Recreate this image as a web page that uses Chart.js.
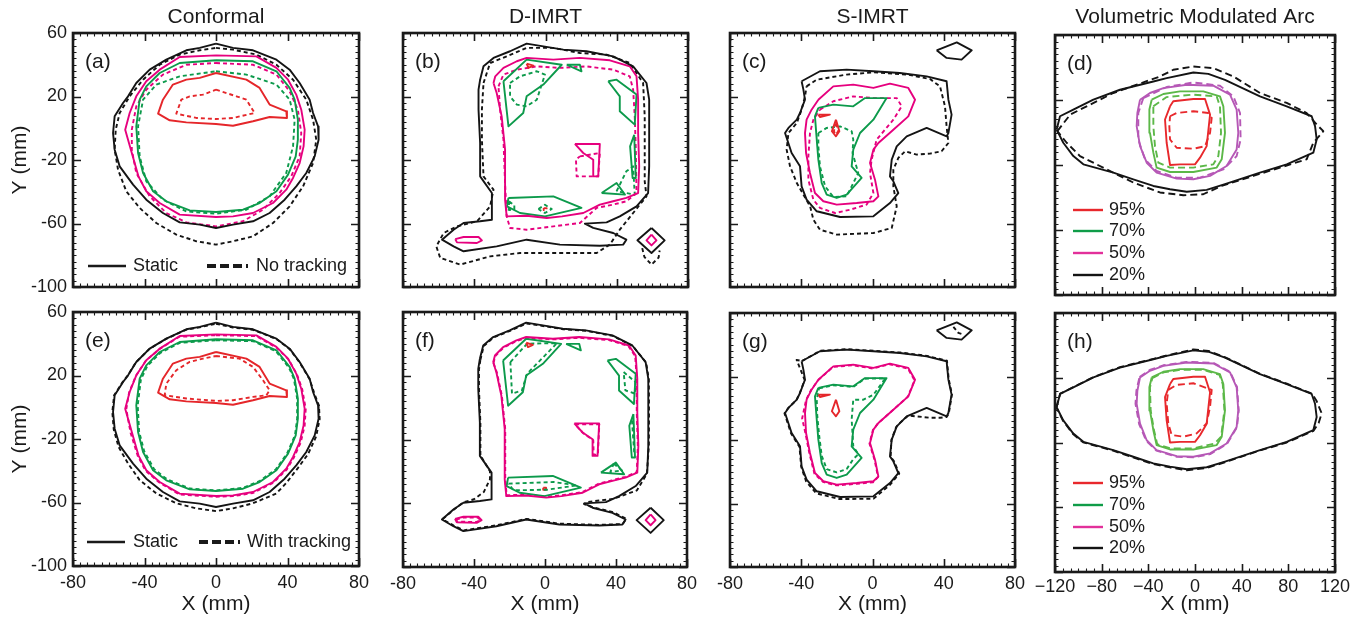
<!DOCTYPE html>
<html><head><meta charset="utf-8">
<script src="https://cdn.jsdelivr.net/npm/chart.js@4"></script>
<style>
html,body{margin:0;padding:0;background:#fff;width:1363px;height:617px;overflow:hidden}
#wrap{position:relative;width:1363px;height:617px}
canvas{position:absolute;left:0;top:0}
</style>
</head><body><div id="wrap"></div>
<script>
// ---------------- DATA (mm) ----------------
const columnTitles = ['Conformal','D-IMRT','S-IMRT','Volumetric Modulated Arc'];
const panelLetters = ['(a)','(b)','(c)','(d)','(e)','(f)','(g)','(h)'];
const yTicks = [60,20,-20,-60,-100];
const xTicks = [-80,-40,0,40,80];
const xTicksArc = [-120,-80,-40,0,40,80,120];
const doseLevels = ['95%','70%','50%','20%'];

// Conformal
const conf_static_20=[[0,53.3],[9.5,50.6],[20.7,49.1],[33.8,43.2],[41.2,36.9],[46.8,28.5],[52.4,18],[54.3,9.6],[57.1,1.2],[57.4,-7.2],[55.2,-17.7],[50.5,-28.2],[44.9,-36.6],[38.4,-45],[30,-53.4],[20.7,-58.6],[9.5,-60.7],[0,-62.8],[-9.1,-60.7],[-20.3,-59.3],[-29.7,-53.4],[-39,-45],[-46.4,-35.5],[-53.9,-24],[-56.7,-13.5],[-57.6,-3],[-56.7,7.5],[-52,15.9],[-49.2,20.1],[-44.6,28.5],[-37.1,36.9],[-27.8,43.2],[-16.6,49.1],[-9.1,50.6]];
const conf_static_50=[[0,45.9],[22.6,45.3],[33.8,38],[40.3,30.6],[44.9,21.2],[47.7,11.7],[49.6,-0.9],[49,-11.4],[46.8,-21.9],[43.1,-31.3],[39.3,-38.7],[31.9,-47.1],[20.7,-53.4],[9.5,-55.5],[0,-55.9],[-20.3,-54.4],[-31.5,-47.1],[-39,-39.7],[-43.4,-30.3],[-47.1,-15.6],[-50.8,-0.9],[-48.3,9.6],[-44.6,20.1],[-39,29.6],[-31.5,36.9],[-20.3,44.9]];
const conf_static_70=[[0,42.8],[20.7,42.2],[33.8,35.9],[41.2,25.4],[44,18],[45.8,5.4],[45.8,-7.2],[44.6,-17.7],[40.3,-29.2],[33.8,-39.7],[24.4,-47.1],[15.1,-51.3],[0,-52.8],[-14.7,-51.7],[-27.8,-46],[-35.2,-39.7],[-40.8,-28.2],[-43.6,-15.6],[-44.6,1.2],[-42.7,18],[-39,26.4],[-31.5,34.8],[-20.3,41.1]];
const conf_static_95=[[0,34.8],[17,30.6],[24.4,25.4],[30,14.9],[39.3,10.7],[39.7,6.5],[30,7.1],[20.7,4.4],[9.5,1.6],[0,2.7],[-16.6,3.7],[-25.9,5],[-32.4,9.2],[-29.7,18],[-24.1,27.5],[-16.6,30.6],[-9.1,31.7]];
const conf_notrack_20=[[0,50.6],[9.5,49.5],[22.6,46.4],[33.8,40],[43.1,30.6],[50.5,18],[54.3,5.4],[56.1,-7.2],[54.3,-21.9],[48.7,-36.6],[41.2,-49.2],[31.9,-59.7],[20.7,-68.1],[9.5,-71.2],[0,-73.3],[-11,-71.2],[-22.2,-67],[-33.4,-59.7],[-42.7,-50.2],[-50.2,-39.7],[-54.8,-26.1],[-56.7,-13.5],[-56.1,-0.9],[-53.9,9.6],[-48.3,20.1],[-40.8,30.6],[-31.5,40],[-20.3,46.4],[-9.1,49.1]];
const conf_notrack_50=[[0,41.1],[20.7,40],[33.8,33.8],[41.2,23.3],[45.8,11.7],[47.7,-3],[46.8,-17.7],[42.1,-30.3],[35.6,-40.8],[26.3,-51.3],[15.1,-58.6],[0,-61.8],[-16.6,-59.3],[-27.8,-53.4],[-37.1,-42.9],[-44.6,-28.2],[-47.1,-13.5],[-47.1,-0.9],[-44.6,13.8],[-39,24.3],[-29.7,33.8],[-16.6,40]];
const conf_notrack_70=[[0,35.9],[17,33.8],[33.8,27.5],[41.2,18],[44,5.4],[43.1,-11.4],[39.3,-28.2],[30,-42.9],[17,-51.3],[0,-53.8],[-16.6,-52.4],[-29.7,-45],[-39,-33.4],[-42.7,-17.7],[-43.6,1.2],[-40.8,18],[-33.4,27.5],[-20.3,32.7]];
const conf_notrack_95=[[0,24.3],[11.4,20.1],[17,18],[21.6,9.6],[9.5,6.5],[0,5.8],[-11,6.5],[-22.2,9.2],[-19.4,18],[-14.7,20.1],[-7.3,21.2]];
const conf_track_20=[[0,52.6],[9.5,50.2],[20.7,48.8],[33.8,43],[41.2,36.6],[46.8,28.2],[52.4,17.6],[54.8,9.4],[57.6,1],[58,-7.5],[56,-18.5],[51.5,-29.5],[46,-38],[39.5,-47.5],[33.8,-54.3],[20.7,-60.5],[9.5,-63.7],[0,-65.4],[-11,-63.7],[-22.2,-60.5],[-33.4,-54.3],[-42.7,-45.9],[-49.2,-35.4],[-54.5,-25],[-57.2,-14],[-58,-3],[-57,7.5],[-52.3,15.8],[-49.4,20],[-44.8,28.3],[-37.3,36.7],[-28,43],[-16.8,48.8],[-9.2,50.3]];
const conf_track_50=[[0,45.4],[22.6,44.8],[33.8,37.6],[40.5,30.2],[45.2,21],[48.2,11.5],[50.2,-1],[49.6,-11.6],[47.4,-22.2],[43.6,-31.6],[39.6,-39.2],[32,-47.6],[20.7,-54],[9.5,-56],[0,-56.4],[-20.3,-55],[-31.5,-47.6],[-39.4,-40],[-43.8,-30.6],[-47.8,-16],[-50.2,-1.2],[-48.6,9.4],[-44.8,19.8],[-39.2,29.4],[-31.7,36.6],[-20.5,44.4]];
const conf_track_70=[[0,42.2],[20.7,41.6],[33.4,35.4],[40.8,25],[43.6,17.8],[45.4,5.4],[45.4,-7.2],[44.2,-17.6],[39.8,-29],[33.4,-39.2],[24.2,-46.6],[15,-50.8],[0,-52.4],[-14.6,-51.2],[-27.4,-45.4],[-34.6,-39],[-40.2,-27.6],[-43,-15.4],[-43.8,1.2],[-42,17.6],[-38.4,26],[-31.2,34.2],[-20.2,40.6]];
const conf_track_95=[[0,32.3],[13.2,30.6],[20.7,25.4],[26.3,17],[30,10.7],[28.2,7.6],[20.7,6.5],[9.5,4.4],[0,4],[-16.6,5.5],[-28.7,7.6],[-27.8,14.9],[-22.2,23.3],[-14.7,28.6],[-7.3,30.6]];

// D-IMRT
const dimrt_static_20=[[-36.7,30.6],[-34.8,39],[-29.2,44.3],[-19.9,48.5],[-10.6,53.3],[-1.2,51.6],[10,49.5],[23,48.5],[38,45.3],[49.2,39],[56.7,28.5],[58.2,18],[58.2,-3],[58.2,-24],[57.6,-40.8],[51.1,-49.2],[41.7,-55.5],[34.3,-59.3],[22.1,-60.1],[26.8,-62.8],[38,-66],[45.4,-70.2],[43.6,-73.3],[30.5,-74],[8.1,-73.3],[-10.6,-70.2],[-27.4,-74.4],[-46,-77.5],[-51.6,-74.4],[-58.1,-70.2],[-51.6,-63.9],[-46,-59.7],[-36.7,-58.6],[-30.1,-57.6],[-30.1,-40.8],[-36.7,-30.3],[-36.7,-9.3],[-37.6,11.7],[-37.6,24.3]];
const dimrt_static_20b=[[59.5,-62.8],[66.9,-70.6],[59.5,-78.6],[51.6,-70.6]];
const dimrt_static_50=[[-29.2,28.5],[-28.2,32.7],[-23.6,38],[-16.1,42.2],[-10.6,44.3],[4.4,43.2],[19.3,44.3],[36.1,42.8],[47.3,39],[51.1,32.7],[52,18],[52,-3],[52.6,-24],[52,-40.8],[45.4,-43.9],[38,-46],[30.5,-48.1],[21.2,-53.4],[9.3,-55.5],[0.7,-56.5],[-10.6,-55.1],[-21.8,-55.5],[-22.7,-45],[-22.7,-13.5],[-24.6,7.5],[-27.4,22.2]];
const dimrt_static_50b=[[16.5,-9.9],[30.5,-9.9],[29.6,-30.3],[26.8,-30.3],[26.8,-19.8],[21.2,-15.6]];
const dimrt_static_50c=[[-50.7,-69.8],[-46,-68.5],[-37.6,-68.5],[-35.7,-70.6],[-38.5,-72.3],[-49.7,-71.9]];
const dimrt_static_50d=[[59.5,-67],[62.3,-70.6],[59.5,-73.8],[56.7,-70.6]];
const dimrt_static_70a=[[-23.6,29.6],[-10.6,43.2],[9.1,40],[-1.2,27.5],[-10.6,20.1],[-12.5,9.6],[-20.8,1.2]];
const dimrt_static_70b=[[11.9,40],[19.3,40],[20.2,35.9]];
const dimrt_static_70c=[[35.2,29.6],[39.9,30.6],[51.1,21.2],[50.1,2.3],[41.7,10.7],[41.7,20.1]];
const dimrt_static_70d=[[49.8,-4.1],[50.7,-31.3],[48.9,-31.3],[47.5,-11.4]];
const dimrt_static_70e=[[31.5,-40.8],[39.9,-34.5],[44.6,-41.8]];
const dimrt_static_70f=[[-20.8,-43.9],[4.4,-42.9],[20.2,-50.2],[-0.3,-55.5],[-14.3,-53.4],[-21.6,-49.2]];
const dimrt_static_95=[[-10.6,40.7],[-6.8,39.4],[-9.6,38]];
const dimrt_dot_95=[[-1,-50.3],[0.6,-50.3],[0.6,-51.6],[-1,-51.6]];
const dimrt_notrack_20=[[-34.8,28.5],[-31.1,41.1],[-21.8,45.3],[-10.6,50.6],[4.4,50.6],[19.3,47.4],[34.3,46.4],[47.3,41.1],[54.8,28.5],[55.7,7.5],[55.7,-13.5],[55.7,-33.4],[56.7,-42.9],[49.2,-53.4],[41.7,-63.9],[36.1,-73.3],[28.7,-78.6],[8.1,-78.6],[-14.3,-78.6],[-31.1,-80.7],[-47.9,-85.9],[-59.1,-81.7],[-61.3,-74.4],[-57.2,-66],[-49.7,-61.8],[-38.5,-58.6],[-31.1,-49.2],[-29.2,-38.7],[-34.8,-30.3],[-35.7,-7.2],[-35.7,11.7]];
const dimrt_notrack_20b=[[54.3,-75.5],[55.5,-81],[59.5,-85.9],[63.5,-81.5],[64.1,-77]];
const dimrt_notrack_50=[[-26.4,26.4],[-23.6,33.8],[-16.1,36.9],[-4.9,39],[8.1,38],[23,39],[38,36.9],[47.3,32.7],[49.2,24.3],[50.1,7.5],[50.7,-13.5],[51.1,-40.8],[45.4,-46],[38,-48.1],[28.7,-50.2],[19.3,-59.7],[4.4,-61.8],[-10.6,-63.9],[-19.9,-62.8],[-21.8,-55.5],[-22.7,-34.5],[-23.6,-7.2],[-25.5,11.7]];
const dimrt_notrack_50b=[[19.3,-17.7],[30.5,-15.6],[29.6,-30.3],[17.5,-30.3],[17.1,-19.8]];
const dimrt_notrack_70a=[[-19.9,28.5],[-14.3,32.7],[-4.9,35.9],[-0.3,33.8],[-4.9,18],[-10.6,13.8],[-16.1,14.9],[-19.9,20.1]];
const dimrt_notrack_70b=[[39.9,-39.7],[45.4,-27.1],[49.2,-24],[50.1,-41.8]];
const dimrt_notrack_70c=[[-4,-50.9],[-0.3,-48.2],[3.5,-50.9],[-0.3,-53.4]];
const dimrt_notrack_70d=[[-20.5,-46],[-17.5,-48.5],[-17.5,-51],[-20.5,-51.5]];
const dimrt_track_20=[[-36.4,30],[-34.5,38.6],[-29,44],[-19.7,48.2],[-10.4,52.8],[-1,51.2],[10.2,49.2],[23.2,48.2],[38.2,45],[49.5,38.6],[57,28.2],[58.5,17.6],[58.6,-3.2],[58.5,-24.4],[57.4,-41.5],[51.8,-51.9],[38.7,-57.2],[23.7,-59.2],[22,-60.5],[27,-62.5],[38.4,-65.6],[45.8,-69.8],[43.8,-73],[30.6,-73.6],[8,-72.8],[-10.4,-69.8],[-27.2,-73.8],[-45.8,-77],[-51.4,-74],[-57.8,-70],[-51.4,-64],[-46,-59.4],[-40,-57.5],[-34.5,-53],[-31,-45],[-31,-40],[-36.4,-30],[-36.4,-9.5],[-37.2,11.5],[-37.2,24]];
const dimrt_track_50=[[-29,28],[-28,32.4],[-23.4,37.6],[-16,41.8],[-10.4,43.8],[4.4,42.8],[19.3,43.8],[36,42.4],[47,38.6],[50.8,32.4],[51.7,17.8],[51.7,-3],[52.3,-24],[51.7,-40.4],[45.2,-43.5],[37.8,-45.6],[30.3,-47.7],[21,-53],[9.3,-55],[0.7,-56],[-10.6,-54.6],[-21.6,-55],[-22.4,-45],[-22.4,-13.5],[-24.3,7.5],[-27.1,22]];
const dimrt_track_50b=[[17,-10.5],[30.6,-10.5],[29.8,-29.5],[27.4,-29.5],[27.2,-20.5],[21.5,-16]];
const dimrt_track_50c=[[-50.2,-70.2],[-46,-69],[-38,-69],[-36.2,-70.6],[-38.8,-71.8],[-49.4,-71.5]];
const dimrt_track_70a=[[-19.5,28.6],[-10.1,40.1],[6.8,40.5],[-10.1,21.3],[-13,10.8],[-18.6,8.7]];
const dimrt_track_70c=[[44.3,22.3],[50.9,16.1],[50.9,8.7],[45.3,10.8]];
const dimrt_track_70d=[[49,-8],[50.3,-28.9]];
const dimrt_track_70e=[[38.7,-35.2],[43.4,-39.4],[36.8,-40.4]];
const dimrt_track_70f=[[-20.5,-47.7],[4.9,-46.7],[18,-48.8],[1.1,-51.5],[-17.7,-51.9]];

// S-IMRT
const simrt_static_20=[[-39.8,29.6],[-29.5,35.9],[-14.5,36.9],[0.5,35.9],[15.4,34.8],[30.4,32.7],[41.6,29.6],[42.6,18],[44.4,8.6],[42.6,-3],[41.6,-5.1],[30.4,0.2],[19.2,-5.1],[13.6,-11.4],[10.8,-19.8],[9.8,-30.3],[11.7,-33.4],[14.5,-40.8],[9.8,-47.1],[0.5,-55.5],[-18.2,-55.9],[-31.3,-52.3],[-37,-45],[-39.8,-36.6],[-40.7,-24],[-45.4,-15.6],[-49.1,-3],[-47.2,0.2],[-42.5,5.4],[-40.7,9.6],[-37.9,18],[-38.8,24.3]];
const simrt_static_20b=[[36,49.1],[47.3,54.1],[55.7,49.1],[50,43.2],[41.6,44.3]];
const simrt_static_50=[[-30.4,18],[-22,26.4],[-10.8,27.5],[0.5,25.4],[9.8,28.1],[20.1,25.4],[23.9,18],[20.1,7.5],[11.7,-0.9],[3.3,-9.3],[0.5,-13.5],[-1.4,-21.9],[1.4,-32.4],[3.3,-42.9],[0.5,-46],[-8.9,-47.1],[-20.1,-48.1],[-27.6,-46],[-32.3,-40.8],[-35.1,-28.2],[-37.3,-15.6],[-37.9,-3],[-37,5.4],[-34.2,11.7]];
const simrt_static_70=[[-30.4,12.8],[-22,14.9],[-10.8,13.8],[-4.2,19],[7.9,19],[0.5,5.4],[-7,-3],[-10.8,-13.5],[-11.7,-24],[-6.1,-31.3],[-14.5,-41.8],[-20.1,-43.9],[-25.7,-41.8],[-28.5,-34.5],[-30.4,-19.8],[-31.3,-7.2],[-32.3,7.5]];
const simrt_static_95a=[[-30.4,8.6],[-23.9,8.6],[-29.5,7.1]];
const simrt_static_95b=[[-20.5,5.4],[-18.6,-1.9],[-20.5,-5.1],[-22.8,-1.9]];
const simrt_notrack_20=[[-37,26.4],[-31.3,30.6],[-14.5,33.8],[0.5,35.2],[19.7,33.8],[32.3,31],[37.9,26.4],[40.7,13.8],[41.6,1.2],[42.6,-9.3],[38.8,-14.5],[32.3,-16],[24.8,-16.6],[18.3,-14.5],[14.5,-18.7],[11.7,-26.1],[11.7,-36.6],[13.6,-49.2],[10.8,-62.8],[0.5,-66],[-20.1,-67],[-29.5,-63.9],[-33.2,-57.6],[-35,-49.2],[-38.8,-41.8],[-42.5,-34.5],[-46.3,-24],[-48.2,-13.5],[-47.2,-3],[-42.5,3.3],[-39.8,11.7],[-37.9,20.1]];
const simrt_notrack_50=[[-29.5,11.7],[-22,17],[-10.8,20.1],[0.5,19],[13.6,19],[16.4,13.8],[11.7,5.4],[2.3,-7.2],[-0.5,-19.8],[-1.4,-28.2],[0.5,-40.8],[-3.3,-48.1],[-12.6,-51.3],[-21,-53.4],[-29.5,-50.2],[-33.2,-45],[-36,-32.4],[-36,-17.7],[-35.1,-3],[-33.2,5.4]];
const simrt_notrack_70=[[-30.4,-3],[-25.7,0.2],[-18.2,1.2],[-11.7,-1.9],[-10.8,-7.2],[-11.2,-15.6],[-8,-28.2],[-11.7,-36.6],[-14.5,-42.9],[-22,-43.3],[-26.6,-36.6],[-29.5,-24],[-30.4,-11.4]];
const simrt_notrack_95=[[-20.5,3],[-19.3,-1.9],[-20.5,-4],[-21.7,-1.9]];
const simrt_track_20=[[-39.5,29.8],[-29.3,36.2],[-14.3,37.2],[0.7,36.2],[15.6,35.1],[30.6,33],[41.8,29.9],[42.8,18.2],[44.6,8.8],[42.8,-3.5],[41.6,-5.5],[37.9,-6],[32.3,-6],[20.1,-4.6],[15.4,-9.2],[13.2,-12],[10.6,-20],[10.2,-30.6],[12.2,-33.6],[15,-41.2],[10,-48],[0.5,-57],[-18.4,-57.2],[-31.6,-53.6],[-37.3,-46],[-40,-37],[-41,-24.3],[-45.7,-15.9],[-49.4,-3.2],[-47.4,0],[-42.7,5.2],[-40.9,9.4],[-38.1,17.8],[-40.5,24.6],[-42.6,30.4]];
const simrt_track_20b=[[45.4,51.3],[48.2,47.5],[51,46.5]];
const simrt_track_50=[[-30.6,17.6],[-22.2,26],[-11,27.1],[0.3,25],[9.6,27.7],[19.9,25],[23.6,17.6],[19.8,7.2],[11.4,-1.2],[3,-9.6],[0.2,-13.8],[-1.7,-22.2],[1.2,-32.7],[3.1,-43.4],[0.3,-46.6],[-8.9,-47.6],[-20.1,-48.6],[-27.8,-46.4],[-32.6,-41.2],[-35.4,-28.6],[-37.6,-16],[-39.5,-6.5],[-37.3,5.2],[-34.5,11.5]];
const simrt_track_70=[[-30,12.5],[-22,14.5],[-10.8,13.4],[-4.4,18.6],[7.2,18.8],[0.5,8.5],[-5.1,5.4],[-10.8,5.4],[-11.7,-7.1],[-10.8,-23.8],[-8,-29],[-10.8,-32.1],[-14.5,-38.3],[-20.1,-40.4],[-25.7,-38.3],[-28.5,-30],[-29.9,-17.5],[-31,-5],[-31.3,5.4]];

// Volumetric Modulated Arc
const vmat_static_20=[[-118.6,1.8],[-115.7,10],[-104.3,14.1],[-87.1,20.2],[-64.3,26.3],[-35.7,31.4],[-24.3,33.5],[-1.4,36.9],[11.4,36.1],[25.7,32.4],[55.7,22.2],[78.6,16.1],[100,10],[102.9,3.9],[104.3,-4.3],[101.4,-12.4],[78.6,-19.6],[55.7,-24.7],[25.7,-31.8],[10,-35.3],[-7.1,-36.5],[-21.4,-34.9],[-35.7,-32.9],[-52.9,-28.8],[-70,-24.7],[-95.7,-19.6],[-104.3,-14.5],[-112.9,-6.3]];
const vmat_static_50=[[-47.1,20.2],[-38.6,24.3],[-27.1,27.3],[-7.1,29.4],[15.7,28.8],[30,23.3],[35.7,14.1],[37.1,-0.2],[35.7,-10.4],[27.1,-20.6],[12.9,-26.7],[-1.4,-28.8],[-15.7,-28.4],[-32.9,-24.7],[-41.4,-18.6],[-47.1,-8.4],[-50,3.9],[-49.4,12]];
const vmat_static_70=[[-37.1,20.2],[-27.1,23.7],[-12.9,25.3],[7.1,25.3],[21.4,22.2],[24.3,16.1],[25.7,-0.2],[22.9,-16.5],[18.6,-21.6],[-1.4,-24.3],[-21.4,-24.3],[-32.9,-21.6],[-35.7,-12.4],[-38.6,-0.2],[-39.1,14.1]];
const vmat_static_95=[[-21.4,16.1],[-18.6,19.2],[-1.4,20.6],[8.6,20.6],[12.9,11],[10,-8.4],[4.3,-15.5],[0,-19.6],[-12.9,-19.6],[-21.4,-20],[-24.3,-6.3],[-25.7,8]];
const vmat_notrack_20=[[-118,0.8],[-107,11],[-92.9,16.1],[-70,24.3],[-50,29.4],[-30,34.5],[-18.6,38.6],[-1.4,40.6],[15.7,39.6],[32.9,34.5],[55.7,24.3],[78.6,18.2],[95.7,12],[104.3,4.9],[110,0.8],[101.4,-6.3],[95.7,-16.5],[72.9,-21.6],[50,-26.7],[22.9,-32.9],[7.1,-38],[-10,-38.6],[-30,-36.9],[-52.9,-30.8],[-75.7,-22.7],[-98.6,-14.5],[-110,-6.3]];
const vmat_notrack_50=[[-44.3,21.2],[-24.3,28],[-1.4,30.8],[21.4,28.8],[32.9,22.2],[38.6,12],[39.1,-4.3],[35.7,-14.5],[24.3,-22.7],[4.3,-27.8],[-15.7,-27.8],[-32.9,-23.7],[-42.9,-16.5],[-48.6,-4.3],[-48.6,12]];
const vmat_notrack_70=[[-35.7,16.1],[-24.3,21.8],[-1.4,23.3],[18.6,22.2],[21.4,16.1],[22.3,-0.2],[20,-14.5],[15.7,-19.6],[-1.4,-21.6],[-21.4,-21.6],[-31.4,-18.6],[-34.3,-8.4],[-35.7,3.9]];
const vmat_notrack_95=[[-21.4,10],[-15.7,12],[-1.4,13.1],[11.4,12],[14.3,9],[12.9,-0.2],[8.6,-8.4],[-1.4,-10],[-15.7,-9.4],[-21.4,-4.3],[-22,3.9]];
const vmat_track_20=[[-118.8,1.6],[-115.5,10.2],[-104,14.3],[-87,20.4],[-64.3,26.6],[-35.5,31.7],[-24,33.8],[-1.4,37.5],[11.6,36.6],[25.9,32.6],[55.9,22.4],[78.8,16.3],[100.2,10.2],[104,6],[108.6,-2],[106,-8],[101.6,-12.8],[78.6,-20],[55.5,-25],[25.5,-32.2],[9.8,-35.8],[-7.1,-37.2],[-21.6,-35.4],[-35.9,-33.3],[-53.1,-29.2],[-70.2,-25],[-95.9,-19.9],[-104.5,-14.8],[-113.1,-6.6]];
const vmat_track_50=[[-47.5,20.5],[-38.8,24.8],[-27.2,27.7],[-7.1,29.8],[15.7,29.2],[30.2,23.6],[36,14.3],[37.5,-0.2],[36,-10.6],[27.3,-21],[13,-27.2],[-1.4,-29.2],[-15.7,-28.8],[-33.1,-25],[-41.8,-18.9],[-47.9,-8.6],[-51,3.9],[-50.2,12.2]];
const vmat_track_70=[[-36.6,19.8],[-26.9,23.3],[-12.9,24.9],[7.1,24.9],[21,21.8],[23.8,16],[25.2,-0.2],[22.4,-16.3],[17,-20.6],[-1.4,-23.6],[-21.4,-23.6],[-32.4,-21],[-35.2,-12.2],[-38,-0.2],[-38.6,14]];
const vmat_track_95=[[-22.9,12.5],[-15.7,15.6],[-1.4,16.6],[14.3,12.5],[12.9,2.1],[10,-8.2],[1.4,-14.4],[-10,-16.4],[-20,-15.4],[-22.9,-8.2],[-24.3,4.2]];

// ---------------- STYLE / LAYOUT ----------------
const W=1363,H=617;
const PAL_A={95:'#e5262a',70:'#0c9a4b',50:'#e6007e',20:'#141414'};
const PAL_B={95:'#e8282c',70:'#5cb848',50:'#b658b6',20:'#141414'};
const S=(d,lv,o)=>Object.assign({d,lv,dash:false,closed:true},o||{});
const D=(d,lv,o)=>Object.assign({d,lv,dash:true,closed:true},o||{});

const confStatic=[S(conf_static_20,20),S(conf_static_50,50),S(conf_static_70,70),S(conf_static_95,95)];
const dimrtStatic=[S(dimrt_static_20,20),S(dimrt_static_20b,20),S(dimrt_static_50,50),S(dimrt_static_50b,50),S(dimrt_static_50c,50),S(dimrt_static_50d,50),
  S(dimrt_static_70a,70),S(dimrt_static_70b,70),S(dimrt_static_70c,70),S(dimrt_static_70d,70),S(dimrt_static_70e,70),S(dimrt_static_70f,70),S(dimrt_static_95,95)];
const simrtStatic=[S(simrt_static_20,20),S(simrt_static_20b,20),S(simrt_static_50,50),S(simrt_static_70,70),S(simrt_static_95a,95),S(simrt_static_95b,95)];
const vmatStatic=[S(vmat_static_20,20),S(vmat_static_50,50),S(vmat_static_70,70),S(vmat_static_95,95)];

const panels=[
 {rect:[73,33,359,287],xr:[-80,80],col:0,row:0,pal:PAL_A,dashPat:[4,3],
  layers:[...confStatic,D(conf_notrack_20,20),D(conf_notrack_50,50),D(conf_notrack_70,70),D(conf_notrack_95,95)],
  legend:{type:'track',y:266,label:'No tracking',x1:88,x2:126,tx:133,d1:207,d2:248,dtx:256}},
 {rect:[403,33,688,287],xr:[-80,80],col:1,row:0,pal:PAL_A,dashPat:[4,3],
  layers:[...dimrtStatic,D(dimrt_notrack_20,20),D(dimrt_notrack_20b,20,{closed:false}),D(dimrt_notrack_50,50),D(dimrt_notrack_50b,50),
   D(dimrt_notrack_70a,70),D(dimrt_notrack_70b,70),D(dimrt_notrack_70c,70),D(dimrt_notrack_70d,70),D(dimrt_dot_95,95)]},
 {rect:[730,33,1015,287],xr:[-80,80],col:2,row:0,pal:PAL_A,dashPat:[4,3],
  layers:[...simrtStatic,D(simrt_notrack_20,20),D(simrt_notrack_50,50),D(simrt_notrack_70,70),D(simrt_notrack_95,95)]},
 {rect:[1055,35,1335,295],xr:[-120,120],col:3,row:0,pal:PAL_B,dashPat:[7,4],
  layers:[...vmatStatic,D(vmat_notrack_20,20),D(vmat_notrack_50,50),D(vmat_notrack_70,70),D(vmat_notrack_95,95)],
  legend:{type:'levels',rows:[210,231,253,275],x1:1073,x2:1103,tx:1109}},
 {rect:[73,312,359,566],xr:[-80,80],col:0,row:1,pal:PAL_A,dashPat:[4,3],
  layers:[...confStatic,D(conf_track_20,20),D(conf_track_50,50),D(conf_track_70,70),D(conf_track_95,95)],
  legend:{type:'track',y:542,label:'With tracking',x1:87,x2:125,tx:133,d1:199,d2:240,dtx:247}},
 {rect:[403,312,687,567],xr:[-80,80],col:1,row:1,pal:PAL_A,dashPat:[4,3],
  layers:[...dimrtStatic,D(dimrt_track_20,20),D(dimrt_track_50,50),D(dimrt_track_50b,50),D(dimrt_track_50c,50),
   D(dimrt_track_70a,70),D(dimrt_track_70c,70),D(dimrt_track_70d,70,{closed:false}),D(dimrt_track_70e,70),D(dimrt_track_70f,70),S(dimrt_dot_95,95)]},
 {rect:[730,313,1015,567],xr:[-80,80],col:2,row:1,pal:PAL_A,dashPat:[4,3],
  layers:[...simrtStatic,D(simrt_track_20,20),D(simrt_track_20b,20,{closed:false}),D(simrt_track_50,50),D(simrt_track_70,70)]},
 {rect:[1055,313,1335,572],xr:[-120,120],col:3,row:1,pal:PAL_B,dashPat:[7,4],
  layers:[...vmatStatic,D(vmat_track_20,20),D(vmat_track_50,50),D(vmat_track_70,70),D(vmat_track_95,95)],
  legend:{type:'levels',rows:[483,505,527,548],x1:1073,x2:1103,tx:1109}}
];

const FONT='"Liberation Sans", Arial, Helvetica, sans-serif';
const INK='#1a1a1a';

const framePlugin={
 id:'frame',
 afterDraw(chart){
  const p=chart.options.plugins.frame.panel;
  const ctx=chart.ctx, xs=chart.scales.x, ys=chart.scales.y, a=chart.chartArea;
  ctx.save();
  ctx.strokeStyle=INK; ctx.fillStyle=INK;
  const xminor = p.col===3 ? 40/6 : 4;
  const nx=Math.round((p.xr[1]-p.xr[0])/xminor);
  for(let i=0;i<=nx;i++){
   const v=p.xr[0]+i*xminor; const major=Math.abs(v/40-Math.round(v/40))<1e-6;
   const px=Math.round(xs.getPixelForValue(v))+0.5; const L=major?8:3.5;
   ctx.lineWidth=major?1.6:1.1;
   ctx.beginPath(); ctx.moveTo(px,a.top); ctx.lineTo(px,a.top+L); ctx.moveTo(px,a.bottom); ctx.lineTo(px,a.bottom-L); ctx.stroke();
  }
  for(let i=0;i<=40;i++){
   const v=-100+i*4;
   const isMaj = yTicks.includes(v);
   const py=Math.round(ys.getPixelForValue(v))+0.5; const L=isMaj?8:3.5;
   ctx.lineWidth=isMaj?1.6:1.1;
   ctx.beginPath(); ctx.moveTo(a.left,py); ctx.lineTo(a.left+L,py); ctx.moveTo(a.right,py); ctx.lineTo(a.right-L,py); ctx.stroke();
  }
  ctx.lineWidth=2.6;
  ctx.strokeRect(a.left,a.top,a.right-a.left,a.bottom-a.top);
  ctx.font='18px '+FONT;
  if(p.col===0){
   ctx.textAlign='right'; ctx.textBaseline='middle';
   yTicks.forEach(v=>ctx.fillText(String(v), a.left-6, ys.getPixelForValue(v)));
   ctx.save(); ctx.translate(20,(a.top+a.bottom)/2); ctx.rotate(-Math.PI/2);
   ctx.font='21px '+FONT; ctx.textAlign='center'; ctx.textBaseline='middle';
   ctx.fillText('Y (mm)',0,0); ctx.restore();
  }
  if(p.row===1){
   ctx.font='18px '+FONT; ctx.textAlign='center'; ctx.textBaseline='middle';
   const ticks = p.col===3 ? xTicksArc : xTicks;
   ticks.forEach(v=>{
     const s = p.col===3 ? (v<0 ? '\u2212'+Math.abs(v) : String(v)) : String(v);
     ctx.fillText(s, xs.getPixelForValue(v), a.bottom+ (p.col===3?15:17));
   });
   ctx.font='21px '+FONT;
   ctx.fillText('X (mm)',(a.left+a.right)/2,604);
  }
  if(p.row===0){
   ctx.font='21px '+FONT; ctx.textAlign='center'; ctx.textBaseline='middle';
   ctx.fillText(columnTitles[p.col],(a.left+a.right)/2,17);
  }
  ctx.font='21px '+FONT; ctx.textAlign='left'; ctx.textBaseline='middle';
  ctx.fillText(panelLetters[p.row*4+p.col], a.left+12, a.top+29);
  const lg=p.legend;
  if(lg && lg.type==='track'){
   ctx.lineWidth=2.4; ctx.setLineDash([]);
   ctx.beginPath(); ctx.moveTo(lg.x1,lg.y); ctx.lineTo(lg.x2,lg.y); ctx.stroke();
   ctx.lineWidth=4; ctx.setLineDash([9,4]);
   ctx.beginPath(); ctx.moveTo(lg.d1,lg.y); ctx.lineTo(lg.d2,lg.y); ctx.stroke();
   ctx.setLineDash([]);
   ctx.font='18px '+FONT; ctx.textAlign='left'; ctx.textBaseline='middle';
   ctx.fillText('Static',lg.tx,lg.y); ctx.fillText(lg.label,lg.dtx,lg.y);
  }
  if(lg && lg.type==='levels'){
   const lv=[95,70,50,20];
   const lc={95:'#e8282c',70:'#0f9c48',50:'#e2309a',20:'#141414'};
   ctx.font='18px '+FONT; ctx.textAlign='left'; ctx.textBaseline='middle';
   lg.rows.forEach((y,i)=>{
     ctx.strokeStyle=lc[lv[i]]; ctx.lineWidth=2.4;
     ctx.beginPath(); ctx.moveTo(lg.x1,y); ctx.lineTo(lg.x2,y); ctx.stroke();
     ctx.fillStyle=INK; ctx.fillText(doseLevels[i],lg.tx,y);
   });
  }
  ctx.restore();
 }
};

const toPts=(arr,closed)=>{const pts=arr.map(p=>({x:p[0],y:p[1]})); if(closed&&arr.length>2) pts.push({x:arr[0][0],y:arr[0][1]}); return pts;};

const wrap=document.getElementById('wrap');
panels.forEach(p=>{
 const c=document.createElement('canvas'); c.width=W; c.height=H; c.style.width=W+'px'; c.style.height=H+'px';
 wrap.appendChild(c);
 const r=p.rect;
 new Chart(c,{
  type:'scatter',
  data:{datasets:p.layers.map(l=>({
    data:toPts(l.d,l.closed), showLine:true, fill:false, tension:0,
    borderColor:p.pal[l.lv], borderWidth:1.9, borderDash:l.dash?p.dashPat:[],
    pointRadius:0, pointHoverRadius:0, borderJoinStyle:'round'
  }))},
  options:{
   responsive:false, animation:false, devicePixelRatio:1, events:[],
   layout:{padding:{left:r[0],top:r[1],right:W-r[2],bottom:H-r[3]}},
   scales:{
    x:{type:'linear',min:p.xr[0],max:p.xr[1],display:false},
    y:{type:'linear',min:-100,max:60,display:false}
   },
   plugins:{legend:{display:false},tooltip:{enabled:false},frame:{panel:p}}
  },
  plugins:[framePlugin]
 });
});
</script>
</body></html>
